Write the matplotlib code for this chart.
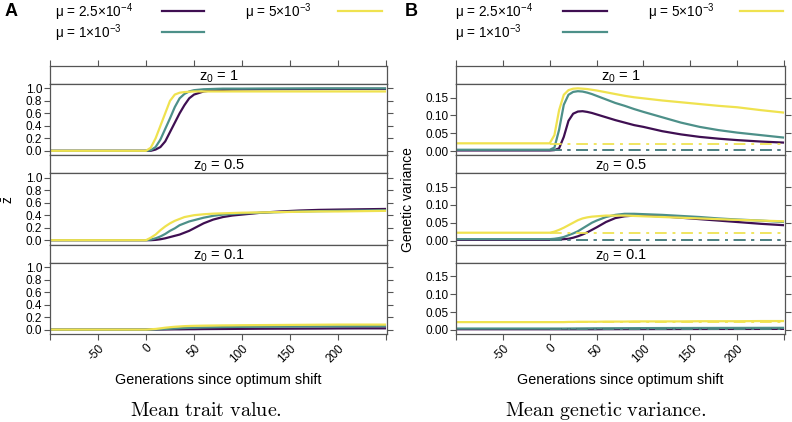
import matplotlib
matplotlib.use("Agg")
import matplotlib.pyplot as plt
from matplotlib.lines import Line2D

plt.rcParams['font.family'] = ['Liberation Sans', 'DejaVu Sans']
plt.rcParams['mathtext.fontset'] = 'custom'
plt.rcParams['mathtext.rm'] = 'Liberation Sans'
plt.rcParams['mathtext.it'] = 'Liberation Sans'
plt.rcParams['mathtext.sf'] = 'Liberation Sans'

# generations since optimum shift (sample points)
gens = [-100, 0, 5, 10, 15, 20, 25, 30, 35, 40, 45, 50, 60, 70, 80, 90, 100,
        120, 140, 160, 180, 200, 225, 250]

mu_labels = [r"μ = 2.5$\times$10$^{-4}$", r"μ = 1$\times$10$^{-3}$", r"μ = 5$\times$10$^{-3}$"]
mu_colors = ["#3f0f52", "#4d9089", "#efe24f"]
z0_labels = [r"z$_0$ = 1", r"z$_0$ = 0.5", r"z$_0$ = 0.1"]

# Panel A: mean trait value, per z0, per mu (low, mid, high)
zbar_z1_low = [0, 0, 0, 0.02, 0.06, 0.15, 0.3, 0.45, 0.6, 0.73, 0.84, 0.9, 0.95, 0.97, 0.975, 0.98, 0.982, 0.985, 0.987, 0.988, 0.989, 0.99, 0.99, 0.99]
zbar_z1_mid = [0, 0, 0.01, 0.06, 0.18, 0.35, 0.52, 0.7, 0.84, 0.91, 0.95, 0.97, 0.985, 0.99, 0.995, 0.995, 0.995, 0.997, 0.998, 0.999, 1.0, 1.0, 1.0, 1.0]
zbar_z1_high = [0, 0, 0.05, 0.2, 0.4, 0.6, 0.8, 0.9, 0.93, 0.94, 0.945, 0.95, 0.95, 0.95, 0.95, 0.95, 0.95, 0.95, 0.95, 0.95, 0.95, 0.95, 0.95, 0.95]

zbar_z05_low = [0, 0, 0, 0.005, 0.015, 0.03, 0.05, 0.07, 0.09, 0.12, 0.15, 0.19, 0.27, 0.33, 0.37, 0.395, 0.41, 0.44, 0.46, 0.475, 0.485, 0.49, 0.495, 0.5]
zbar_z05_mid = [0, 0, 0.01, 0.03, 0.06, 0.1, 0.15, 0.19, 0.24, 0.27, 0.3, 0.32, 0.36, 0.39, 0.41, 0.42, 0.43, 0.44, 0.45, 0.46, 0.465, 0.47, 0.475, 0.48]
zbar_z05_high = [0, 0, 0.04, 0.09, 0.16, 0.22, 0.27, 0.31, 0.34, 0.37, 0.385, 0.4, 0.415, 0.425, 0.43, 0.435, 0.44, 0.445, 0.45, 0.455, 0.46, 0.46, 0.465, 0.47]

zbar_z01_low = [0, 0, 0, 0, 0.001, 0.002, 0.003, 0.004, 0.004, 0.005, 0.006, 0.006, 0.008, 0.009, 0.01, 0.011, 0.012, 0.014, 0.015, 0.016, 0.017, 0.019, 0.02, 0.02]
zbar_z01_mid = [0, 0, 0.001, 0.003, 0.006, 0.01, 0.014, 0.018, 0.022, 0.025, 0.028, 0.03, 0.034, 0.037, 0.04, 0.042, 0.044, 0.046, 0.048, 0.05, 0.051, 0.052, 0.054, 0.055]
zbar_z01_high = [0, 0, 0.005, 0.01, 0.02, 0.03, 0.038, 0.045, 0.05, 0.055, 0.058, 0.06, 0.063, 0.065, 0.067, 0.068, 0.07, 0.072, 0.074, 0.076, 0.078, 0.08, 0.08, 0.08]

# Panel B: mean genetic variance
vg_z1_low = [0.002, 0.002, 0.003, 0.008, 0.04, 0.085, 0.105, 0.111, 0.112, 0.11, 0.107, 0.103, 0.095, 0.087, 0.08, 0.073, 0.068, 0.056, 0.047, 0.04, 0.035, 0.031, 0.027, 0.024]
vg_z1_mid = [0.004, 0.004, 0.01, 0.06, 0.13, 0.158, 0.166, 0.168, 0.167, 0.164, 0.16, 0.155, 0.145, 0.135, 0.127, 0.118, 0.11, 0.095, 0.08, 0.068, 0.059, 0.052, 0.045, 0.038]
vg_z1_high = [0.022, 0.022, 0.045, 0.115, 0.158, 0.171, 0.175, 0.176, 0.175, 0.174, 0.172, 0.17, 0.165, 0.16, 0.155, 0.151, 0.148, 0.142, 0.137, 0.132, 0.127, 0.123, 0.115, 0.108]

vg_z05_low = [0.002, 0.002, 0.002, 0.003, 0.004, 0.005, 0.008, 0.012, 0.017, 0.023, 0.03, 0.037, 0.052, 0.063, 0.068, 0.07, 0.07, 0.068, 0.064, 0.06, 0.056, 0.052, 0.047, 0.043]
vg_z05_mid = [0.004, 0.004, 0.005, 0.007, 0.01, 0.015, 0.02, 0.026, 0.034, 0.042, 0.05, 0.056, 0.066, 0.072, 0.075, 0.075, 0.074, 0.072, 0.069, 0.066, 0.062, 0.059, 0.056, 0.052]
vg_z05_high = [0.022, 0.022, 0.025, 0.03, 0.036, 0.043, 0.05, 0.057, 0.062, 0.065, 0.067, 0.068, 0.07, 0.07, 0.07, 0.069, 0.068, 0.066, 0.064, 0.062, 0.06, 0.058, 0.056, 0.054]

vg_z01_low = [0.002, 0.002, 0.002, 0.002, 0.002, 0.002, 0.002, 0.002, 0.002, 0.002, 0.002, 0.002, 0.0022, 0.0022, 0.0023, 0.0023, 0.0024, 0.0025, 0.0026, 0.0027, 0.0028, 0.0028, 0.0029, 0.003]
vg_z01_mid = [0.004, 0.004, 0.004, 0.004, 0.004, 0.0041, 0.0042, 0.0043, 0.0044, 0.0045, 0.0046, 0.0047, 0.0048, 0.0049, 0.005, 0.0051, 0.0052, 0.0054, 0.0055, 0.0056, 0.0057, 0.0058, 0.0059, 0.006]
vg_z01_high = [0.022, 0.022, 0.022, 0.022, 0.022, 0.0225, 0.0225, 0.023, 0.023, 0.023, 0.023, 0.023, 0.0235, 0.0235, 0.0235, 0.024, 0.024, 0.024, 0.024, 0.0245, 0.0245, 0.0245, 0.025, 0.025]

# expected equilibrium variance (dash-dot lines), per mu
vg_eq = [0.002, 0.0022, 0.021]
eq_span = [0, 250]

zbar_data = [[zbar_z1_low, zbar_z1_mid, zbar_z1_high],
             [zbar_z05_low, zbar_z05_mid, zbar_z05_high],
             [zbar_z01_low, zbar_z01_mid, zbar_z01_high]]
vg_data = [[vg_z1_low, vg_z1_mid, vg_z1_high],
           [vg_z05_low, vg_z05_mid, vg_z05_high],
           [vg_z01_low, vg_z01_mid, vg_z01_high]]

xticks = [-100, -50, 0, 50, 100, 150, 200, 250]
xticklabels = ["", "-50", "0", "50", "100", "150", "200", ""]

W, H = 792, 422
fig = plt.figure(figsize=(W / 100, H / 100), dpi=100)

frame_col = "#555555"


def fx(px):
    return px / W


def fy(py):
    return 1 - py / H


def draw_side(left_px, right_px, data, ylim, yticks, yfmt, ylabel, ylabel_x, eq=False):
    top0 = 65.7
    block = 89.4
    strip = 18.0
    for i in range(3):
        s_top = top0 + i * block
        s_bot = s_top + strip
        p_bot = s_top + block
        sax = fig.add_axes([fx(left_px), fy(s_bot), fx(right_px - left_px), (s_bot - s_top) / H])
        ax = fig.add_axes([fx(left_px), fy(p_bot), fx(right_px - left_px), (p_bot - s_bot) / H])
        for a in (sax, ax):
            a.set_xlim(-100, 251)
            for sp in a.spines.values():
                sp.set_color(frame_col)
                sp.set_linewidth(0.9)
        sax.set_ylim(0, 1)
        sax.set_yticks([])
        sax.text(0.5, 0.4, z0_labels[i], transform=sax.transAxes, ha="center", va="center", fontsize=10.5)
        if i == 0:
            sax.set_xticks(xticks)
            sax.tick_params(axis="x", bottom=False, labelbottom=False, top=True, labeltop=False,
                            direction="out", length=4, color=frame_col, width=0.8)
        else:
            sax.set_xticks([])

        for k in range(3):
            ax.plot(gens, data[i][k], color=mu_colors[k], lw=1.6, solid_capstyle="butt")
        if eq:
            for k in range(3):
                ax.plot(eq_span, [vg_eq[k], vg_eq[k]], color=mu_colors[k], lw=1.4,
                        linestyle=(0, (6, 3, 1.5, 3)), alpha=0.9)
        ax.set_ylim(*ylim)
        ax.set_yticks(yticks)
        ax.set_yticklabels([yfmt.format(v) for v in yticks])
        ax.tick_params(axis="y", left=True, right=True, labelleft=True, direction="out",
                       length=4, color=frame_col, width=0.8, labelsize=8.5, pad=1.5)
        if i == 2:
            ax.set_xticks(xticks)
            ax.set_xticklabels(xticklabels, rotation=45, ha="right", rotation_mode="anchor")
            ax.tick_params(axis="x", direction="out", length=4, color=frame_col, width=0.8,
                           labelsize=8.5, pad=2)
        else:
            ax.set_xticks([])
    fig.text(fx(ylabel_x), fy(200), ylabel, rotation=90, ha="center", va="center", fontsize=10)
    mid = (left_px + right_px) / 2
    fig.text(fx(mid), fy(380), "Generations since optimum shift", ha="center", va="center", fontsize=10.4)


draw_side(50, 387, zbar_data, (-0.069, 1.074), [0.0, 0.2, 0.4, 0.6, 0.8, 1.0], "{:.1f}",
          r"$\bar{\mathrm{z}}$", 9)
draw_side(456, 785, vg_data, (-0.011, 0.189), [0.0, 0.05, 0.10, 0.15], "{:.2f}",
          "Genetic variance", 408, eq=True)

# panel letters
fig.text(fx(5), fy(12), "A", fontsize=13, fontweight="bold", ha="left", va="center")
fig.text(fx(405), fy(12), "B", fontsize=13, fontweight="bold", ha="left", va="center")

# legends
for off, text_x2, line1, line3 in [(0, 245, (162, 204), (338, 382)),
                                    (400, 648, (563, 607), (740, 783))]:
    base = 55 + off
    entries = [(base, 12, line1), (base, 33, line1), (text_x2, 12, line3)]
    for k, (tx, ty, (l0, l1)) in enumerate(entries):
        fig.text(fx(tx), fy(ty), mu_labels[k], fontsize=9.8, ha="left", va="center")
        fig.add_artist(Line2D([fx(l0), fx(l1)], [fy(ty - 1.5), fy(ty - 1.5)], color=mu_colors[k],
                              lw=1.6, transform=fig.transFigure))

# captions
fig.text(fx(206), fy(411), r"$\mathrm{Mean\ trait\ value.}$", ha="center", va="center",
         fontsize=14.5, math_fontfamily="cm")
fig.text(fx(606), fy(411), r"$\mathrm{Mean\ genetic\ variance.}$", ha="center", va="center",
         fontsize=14.5, math_fontfamily="cm")

fig.savefig("out.png", dpi=100, facecolor="white")
